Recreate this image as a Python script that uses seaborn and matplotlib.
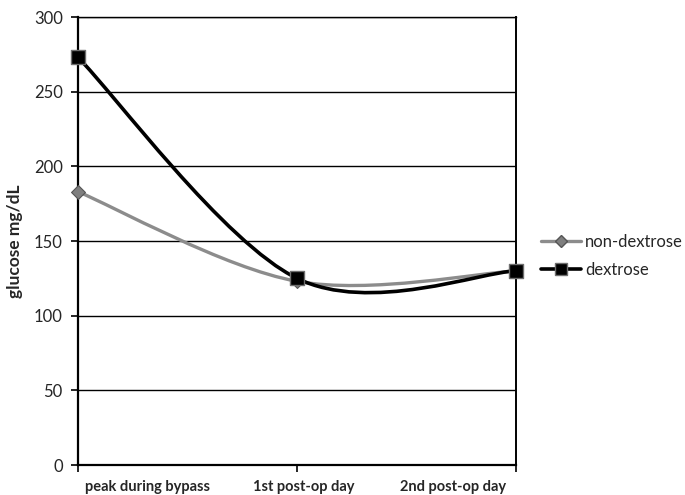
import matplotlib
matplotlib.use("Agg")
import matplotlib.pyplot as plt
import numpy as np
import pandas as pd
import seaborn as sns
from matplotlib.lines import Line2D
from matplotlib.patches import PathPatch
from matplotlib.path import Path

# values
categories = ["peak during bypass", "1st post-op day", "2nd post-op day"]
non_dextrose = [183, 123, 130]
dextrose = [273, 125, 130]
y_ticks = [0, 50, 100, 150, 200, 250, 300]

# the original (Excel) draws the category labels off-centre from their ticks
label_positions = [0.316, 1.032, 1.712]

GRAY_LINE = "#8c8c8c"
GRAY_FACE = "#7f7f7f"
GRAY_EDGE = "#555555"
BLACK = "#000000"


def smooth_path(xs, ys):
    # Excel-style smoothed line: cubic Bezier through each point
    pts = np.column_stack([xs, ys]).astype(float)
    n = len(pts)
    verts, codes = [pts[0]], [Path.MOVETO]
    for i in range(n - 1):
        prev = pts[max(i - 1, 0)]
        nxt = pts[min(i + 2, n - 1)]
        verts += [pts[i] + (pts[i + 1] - prev) / 6,
                  pts[i + 1] - (nxt - pts[i]) / 6,
                  pts[i + 1]]
        codes += [Path.CURVE4] * 3
    return Path(verts, codes)


sns.set_style("white")
plt.rcParams["font.family"] = ["Lato", "DejaVu Sans"]

df = pd.DataFrame({
    "x": list(range(len(categories))) * 2,
    "glucose": non_dextrose + dextrose,
    "group": ["non-dextrose"] * len(categories) + ["dextrose"] * len(categories),
})

fig = plt.figure(figsize=(6.85, 4.95), dpi=100)
ax = fig.add_axes([78 / 685, 30 / 495, 438 / 685, 448 / 495])

xs = np.arange(len(categories))
ax.add_patch(PathPatch(smooth_path(xs, non_dextrose), fill=False,
                       edgecolor=GRAY_LINE, lw=2.4, zorder=3, capstyle="round"))
sns.scatterplot(data=df[df.group == "non-dextrose"], x="x", y="glucose", ax=ax,
                marker="D", s=50, color=GRAY_FACE, edgecolor=GRAY_EDGE,
                linewidth=0.8, zorder=4, legend=False)
ax.add_patch(PathPatch(smooth_path(xs, dextrose), fill=False,
                       edgecolor=BLACK, lw=2.6, zorder=5, capstyle="round"))
sns.scatterplot(data=df[df.group == "dextrose"], x="x", y="glucose", ax=ax,
                marker="s", s=110, color=BLACK, edgecolor="#6e6e6e",
                linewidth=1.0, zorder=6, legend=False)
for coll in ax.collections:
    coll.set_clip_on(False)

ax.set_xlim(0, len(categories) - 1)
ax.set_ylim(0, 300)
ax.set_yticks(y_ticks)
ax.set_xticks(xs)
ax.set_xticklabels([])
ax.set_xticks(label_positions, minor=True)
ax.set_xticklabels(categories, minor=True, fontweight="bold", fontsize=10.5)
ax.tick_params(axis="y", labelsize=12, length=5, width=1.2, direction="out",
               color=BLACK, pad=6, left=True)
ax.tick_params(axis="x", which="major", length=5, width=1.2, direction="out",
               color=BLACK, bottom=True)
ax.tick_params(axis="x", which="minor", length=0, pad=11, bottom=True)
ax.set_xlabel("")
ax.set_ylabel("glucose mg/dL", fontweight="bold", fontsize=12.5, labelpad=8)

ax.grid(axis="y", color=BLACK, linewidth=1.0)
ax.set_axisbelow(True)
for side in ("left", "bottom", "right", "top"):
    ax.spines[side].set_visible(True)
    ax.spines[side].set_color(BLACK)
ax.spines["left"].set_linewidth(1.6)
ax.spines["bottom"].set_linewidth(1.6)
ax.spines["right"].set_linewidth(1.4)
ax.spines["top"].set_linewidth(1.0)

handles = [
    Line2D([], [], color=GRAY_LINE, lw=2.4, marker="D", markersize=6,
           markerfacecolor=GRAY_FACE, markeredgecolor=GRAY_EDGE),
    Line2D([], [], color=BLACK, lw=2.6, marker="s", markersize=8,
           markerfacecolor=BLACK, markeredgecolor="#6e6e6e"),
]
fig.legend(handles, ["non-dextrose", "dextrose"], loc="center left",
           bbox_to_anchor=(541 / 685, 1 - 256 / 495), frameon=False,
           fontsize=12, handlelength=2.4, handletextpad=0.25,
           labelspacing=0.75, borderpad=0, borderaxespad=0)

fig.savefig("out.png", dpi=100, facecolor="white")
